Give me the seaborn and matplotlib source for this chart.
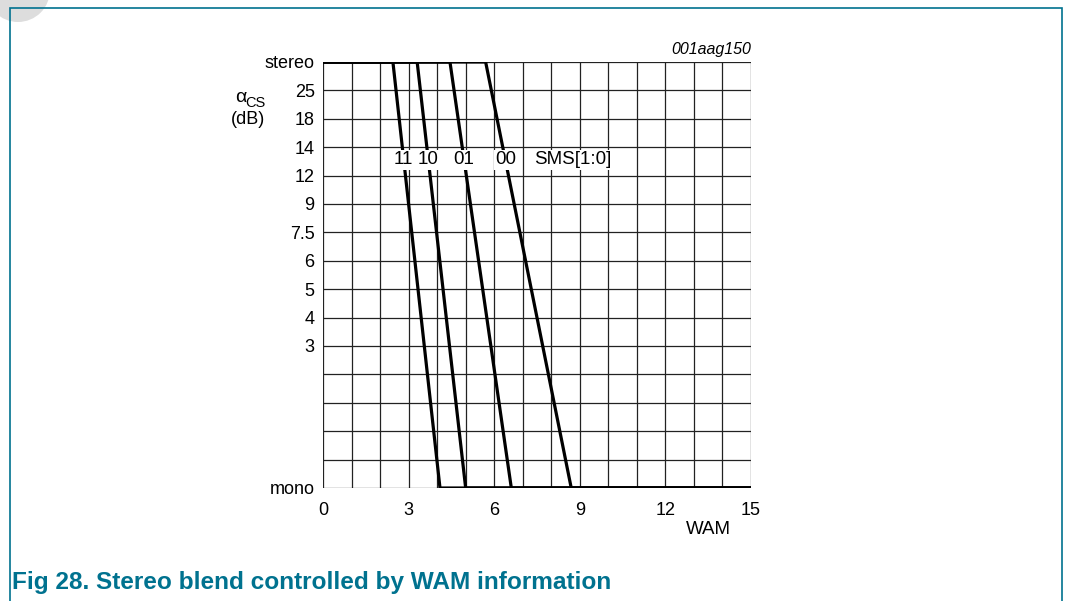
import numpy as np
import pandas as pd
import seaborn as sns
import matplotlib.pyplot as plt
from matplotlib.patches import Rectangle, Ellipse

# SMS[1:0] setting and WAM where blending starts (stereo) and ends (mono)
sms_labels = ["11", "10", "01", "00"]
wam_stereo_end = [2.45, 3.3, 4.45, 5.7]
wam_mono_start = [4.1, 5.0, 6.6, 8.7]

# y axis is a 15-step ladder from mono (0) to stereo (15)
y_levels = [0, 5, 6, 7, 8, 9, 10, 11, 12, 13, 14, 15]
y_labels = ["mono", "3", "4", "5", "6", "7.5", "9", "12", "14", "18", "25", "stereo"]
x_ticks = [0, 3, 6, 9, 12, 15]
label_level = 11.55

rows = []
for lab, xs, xm in zip(sms_labels, wam_stereo_end, wam_mono_start):
    for i, (x, y) in enumerate([(0, 15), (xs, 15), (xm, 0), (15, 0)]):
        rows.append({"sms": lab, "order": i, "wam": x, "level": y})
df = pd.DataFrame(rows)

sns.set_style("white")
plt.rcParams["font.family"] = ["Liberation Sans", "DejaVu Sans"]
plt.rcParams["text.color"] = "black"
plt.rcParams["xtick.color"] = "black"
plt.rcParams["ytick.color"] = "black"

fig = plt.figure(figsize=(10.65, 6.01), dpi=100)
ax = fig.add_axes([323 / 1065, 1 - 488 / 601, 428 / 1065, 426 / 601])

# grid
for v in range(16):
    ax.axvline(v, color="#222222", lw=0.9, zorder=1)
    ax.axhline(v, color="#222222", lw=0.9, zorder=1)

sns.lineplot(data=df, x="wam", y="level", hue="sms", sort=False,
             palette=["black"] * 4, legend=False, lw=2.3, ax=ax, zorder=3)

# curve labels sit on the lines, breaking them
for lab, xs, xm in zip(sms_labels, wam_stereo_end, wam_mono_start):
    xl = xs + (xm - xs) * (15 - label_level) / 15
    ax.text(xl, label_level, lab, ha="center", va="center", fontsize=13.5,
            zorder=5, bbox=dict(facecolor="white", edgecolor="none", pad=1.0))
ax.text(8.77, label_level, "SMS[1:0]", ha="center", va="center", fontsize=13.5,
        zorder=5, bbox=dict(facecolor="white", edgecolor="none", pad=1.0))

ax.set_xlim(0, 15)
ax.set_ylim(0, 15)
ax.set_xticks(x_ticks)
ax.set_xticklabels([str(t) for t in x_ticks])
ax.set_yticks(y_levels)
ax.set_yticklabels(y_labels)
ax.tick_params(length=0, labelsize=13, pad=6, labelcolor="black")
ax.tick_params(axis="x", pad=10)
ax.set_xlabel("")
ax.set_ylabel("")
for s in ax.spines.values():
    s.set_visible(False)

ax.text(1.0, 1.012, "001aag150", transform=ax.transAxes, ha="right", va="bottom",
        fontsize=11.5, style="italic")
fig.text(708 / 1065, 1 - 529 / 601, "WAM", ha="center", va="center", fontsize=13.5)
fig.text(241 / 1065, 1 - 98 / 601, "α", ha="center", va="center", fontsize=14)
fig.text(255 / 1065, 1 - 103 / 601, "CS", ha="center", va="center", fontsize=10.5)
fig.text(248 / 1065, 1 - 119 / 601, "(dB)", ha="center", va="center", fontsize=13)

# page frame and caption
teal = "#00728F"
fig.patches.append(Ellipse((18 / 1065, 1 + 10 / 601), 64 / 1065, 64 / 601,
                           transform=fig.transFigure, facecolor="#dddddd",
                           edgecolor="none", zorder=0))
fig.patches.append(Rectangle((10 / 1065, -0.05), 1052 / 1065, 1 - 8 / 601 + 0.05,
                             transform=fig.transFigure, fill=False, edgecolor=teal,
                             lw=1.2, zorder=1))
fig.text(12 / 1065, 1 - 582 / 601, "Fig 28. Stereo blend controlled by WAM information",
         ha="left", va="center", fontsize=17.6, fontweight="bold", color=teal)

fig.savefig("out.png", dpi=100)
